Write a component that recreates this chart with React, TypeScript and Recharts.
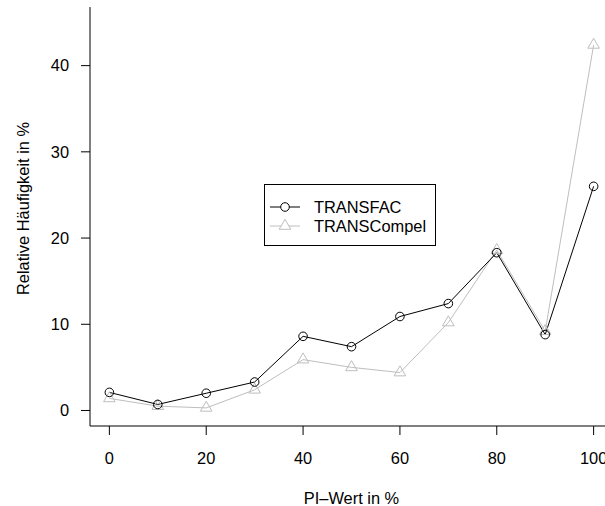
import { LineChart, Line, XAxis, YAxis, Legend } from 'recharts'

const piWerte = [0, 10, 20, 30, 40, 50, 60, 70, 80, 90, 100]
const transfac = [2.1, 0.7, 2.0, 3.3, 8.6, 7.4, 10.9, 12.4, 18.3, 8.8, 26.0]
const transcompel = [1.4, 0.5, 0.3, 2.4, 5.9, 5.0, 4.4, 10.2, 18.6, 9.2, 42.4]
const xTicks = [0, 20, 40, 60, 80, 100]
const yTicks = [0, 10, 20, 30, 40]

const data = piWerte.map((x, i) => ({ x, transfac: transfac[i], transcompel: transcompel[i] }))

const FONT = '"Liberation Sans", Arial, Helvetica, sans-serif'
const GRAY = '#bebebe'

const Circle = (p: any) => (
  <circle key={p.index} cx={p.cx} cy={p.cy} r={4.3} fill="none" stroke="#000" strokeWidth={1} />
)

const Triangle = (p: any) => {
  const { cx, cy } = p
  return (
    <path key={p.index} d={`M${cx},${cy - 6.7} L${cx + 5.8},${cy + 3.3} L${cx - 5.8},${cy + 3.3} Z`}
      fill="none" stroke={GRAY} strokeWidth={1} />
  )
}

const LegendBox = () => (
  <div style={{ width: 172, height: 62, border: '1px solid #000', boxSizing: 'border-box', position: 'relative', background: '#fff' }}>
    {[{ name: 'TRANSFAC', col: '#000', tri: false, y: 22 }, { name: 'TRANSCompel', col: GRAY, tri: true, y: 41 }].map(r => (
      <div key={r.name} style={{ position: 'absolute', left: 0, top: r.y - 10, height: 20, width: 170 }}>
        <svg width={44} height={20} style={{ position: 'absolute', left: 0, top: 0 }}>
          <line x1={5} x2={35} y1={10} y2={10} stroke={r.col} />
          {r.tri
            ? <path d="M20,3.3 L25.8,13.3 L14.2,13.3 Z" fill="#fff" stroke={r.col} />
            : <circle cx={20} cy={10} r={4.3} fill="#fff" stroke={r.col} />}
        </svg>
        <span style={{ position: 'absolute', left: 49, top: 0, lineHeight: '20px', fontSize: 16.4, fontFamily: FONT, color: '#000' }}>{r.name}</span>
      </div>
    ))}
  </div>
)

export default function App() {
  const tickStyle = { fontSize: 16.4, fontFamily: FONT, fill: '#000' }
  return (
    <div style={{ position: 'absolute', left: 0, top: 0, width: 605, height: 506, overflow: 'hidden', background: '#fff' }}>
      <LineChart width={625} height={506} data={data} margin={{ top: 7, right: 12, left: 0, bottom: 0 }}>
        <XAxis dataKey="x" type="number" domain={[-4, 104]} ticks={xTicks} allowDataOverflow
          height={80} tickSize={9} tickMargin={17} tick={tickStyle}
          axisLine={{ stroke: '#000' }} tickLine={{ stroke: '#000' }}
          label={{ value: 'PI–Wert in %', position: 'insideBottom', offset: 2, style: { fontSize: 16.4, fontFamily: FONT, fill: '#000' } }} />
        <XAxis xAxisId="top" dataKey="x" type="number" domain={[-4, 104]} orientation="top" height={0}
          tick={false} tickLine={false} axisLine={{ stroke: '#000' }} />
        <YAxis type="number" domain={[-1.8, 46.8]} ticks={yTicks} allowDataOverflow width={90}
          tickSize={9} tickMargin={12} tick={tickStyle}
          axisLine={{ stroke: '#000' }} tickLine={{ stroke: '#000' }}
          label={{ value: 'Relative Häufigkeit in %', angle: -90, position: 'insideLeft', offset: 23, dy: -8, style: { textAnchor: 'middle', fontSize: 16.4, fontFamily: FONT, fill: '#000' } }} />
        <Legend content={<LegendBox />} layout="vertical" align="center" verticalAlign="middle"
          wrapperStyle={{ left: 264, top: 184, width: 172, height: 62 }} />
        <Line dataKey="transcompel" name="TRANSCompel" stroke={GRAY} strokeWidth={1} dot={Triangle} activeDot={false} isAnimationActive={false} />
        <Line dataKey="transfac" name="TRANSFAC" stroke="#000" strokeWidth={1} dot={Circle} activeDot={false} isAnimationActive={false} />
      </LineChart>
    </div>
  )
}
